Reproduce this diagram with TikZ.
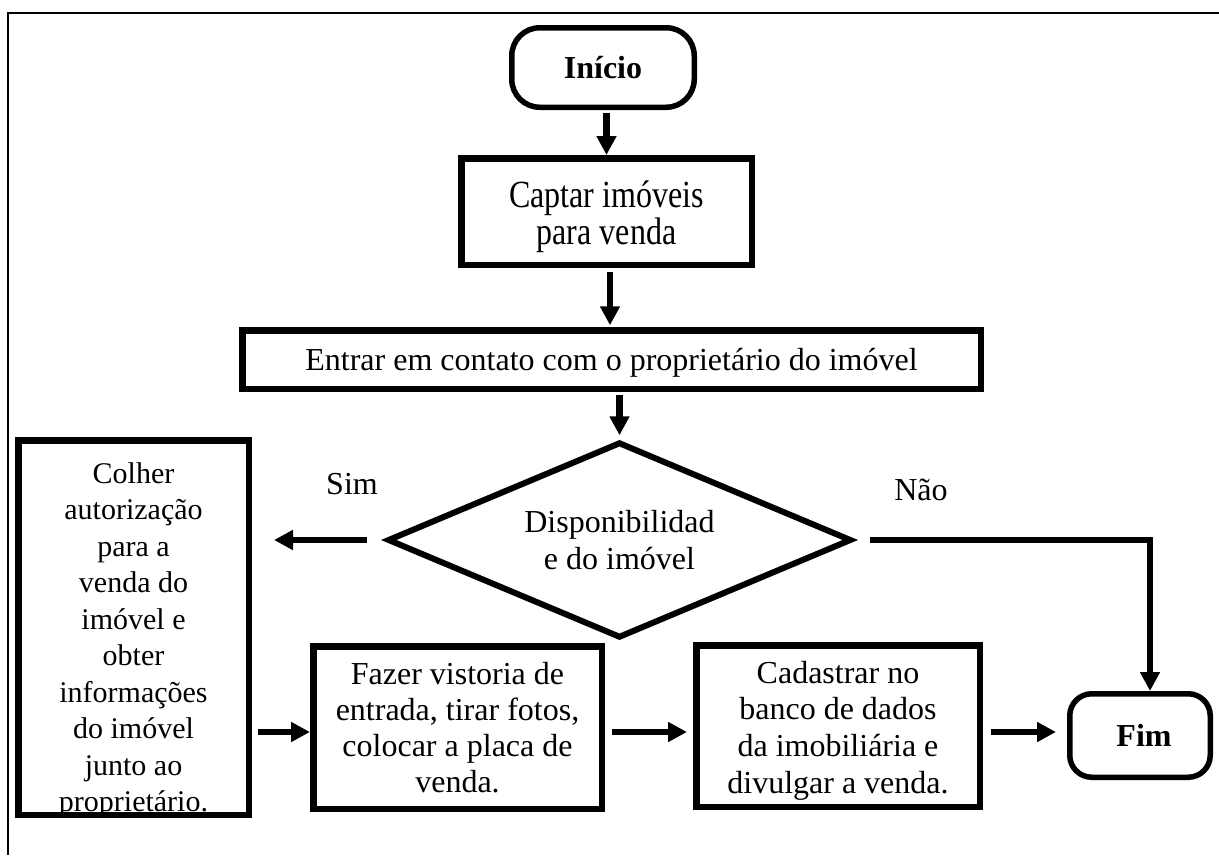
\documentclass[tikz,border=0pt]{standalone}
\usepackage{fontspec}
\usepackage{graphicx}
\setmainfont{Liberation Serif}
\usetikzlibrary{shapes.geometric,arrows.meta,calc}
\begin{document}
\begin{tikzpicture}[x=1pt,y=-1pt,
  every node/.style={font=\fontsize{32}{36.7}\selectfont, inner sep=0pt, outer sep=0pt, align=center},
  procbox/.style={draw, line width=6.5pt, rectangle},
  termbox/.style={draw, line width=5.5pt, rectangle, rounded corners=28pt,
    font=\bfseries\fontsize{32}{37}\selectfont},
  decbox/.style={draw, diamond, aspect=2.4, line width=6pt},
  arr/.style={line width=6.5pt, -{Triangle[width=19pt,length=19pt]}},
  frameline/.style={line width=2.3pt}
]
\useasboundingbox (0,0) rectangle (1219,855);
% outer frame
\draw[frameline] (8,855) -- (8,12.8) -- (1219,12.8);

% nodes
\node[termbox, minimum width=182.5pt, minimum height=79.5pt] (inicio) at (603,67.5) {Início};
\node (captartxt) at (606.5,217) {\scalebox{1}[1.2]{\parbox{280pt}{\centering\fontsize{32}{30.5}\selectfont\lineskiplimit=-50pt\lineskip=0pt Captar imóveis\\para venda}}};
\node[procbox, minimum width=290.5pt, minimum height=106.5pt] (captar) at (606.5,211.5) {};
\node[procbox, minimum width=738.5pt, minimum height=58.5pt, text depth=0pt] (entrar) at (611.5,359.5) {Entrar em contato com o proprietário do imóvel};
\node[decbox, minimum width=461.6pt, minimum height=193.5pt] (dec) at (619.5,540) {Disponibilidad\\e do imóvel};
\node (colhertxt) at (133.5,640.3) [font=\fontsize{30}{36.5}\selectfont] {Colher\\autorização\\para a\\venda do\\imóvel e\\obter\\informações\\do imóvel\\junto ao\\proprietário.};
\node[procbox, minimum width=230.5pt, minimum height=374.5pt] (colher) at (133.5,627.5) {};
\node[procbox, minimum width=288.5pt, minimum height=162.5pt, font=\fontsize{32}{36}\selectfont] (fazer) at (457.5,727.5) {Fazer vistoria de\\entrada, tirar fotos,\\colocar a placa de\\venda.};
\node (cadtxt) at (838,730.5) {Cadastrar no\\banco de dados\\da imobiliária e\\divulgar a venda.};
\node[procbox, minimum width=283.5pt, minimum height=161.5pt] (cadastrar) at (838,726) {};
\node[termbox, rounded corners=22pt, minimum width=140.5pt, minimum height=83.5pt] (fim) at (1140,735.5) {\hspace*{8pt}Fim};

% labels
\node (sim) at (352,484) {Sim};
\node (nao) at (921,490) {Não};

% helper coordinates
\coordinate (row) at (0,732);
\coordinate (nc) at (1150,540);

% connectors
\draw[arr, shorten <=6pt, shorten >=3.25pt] (captar.north |- inicio.south) -- (captar.north);
\draw[arr, shorten <=7.25pt, shorten >=5pt] ([xshift=3.5pt]captar.south) -- ([xshift=3.5pt]captar.south |- entrar.north);
\draw[arr, shorten <=6.25pt, shorten >=8pt] (dec.north |- entrar.south) -- (dec.north);
\draw[arr, shorten <=21.7pt, shorten >=25.25pt] (dec.west) -- (colher.east |- dec.west);
\draw[arr, shorten <=19.7pt, shorten >=2.75pt] (dec.east) -- (nc) -- (nc |- fim.north);
\draw[arr, shorten <=9.25pt, shorten >=3.25pt] (colher.east |- row) -- (fazer.west |- row);
\draw[arr, shorten <=10.25pt, shorten >=9.25pt] (fazer.east |- row) -- (cadastrar.west |- row);
\draw[arr, shorten <=11.25pt, shorten >=13.75pt] (cadastrar.east |- row) -- (fim.west |- row);
\end{tikzpicture}
\end{document}
